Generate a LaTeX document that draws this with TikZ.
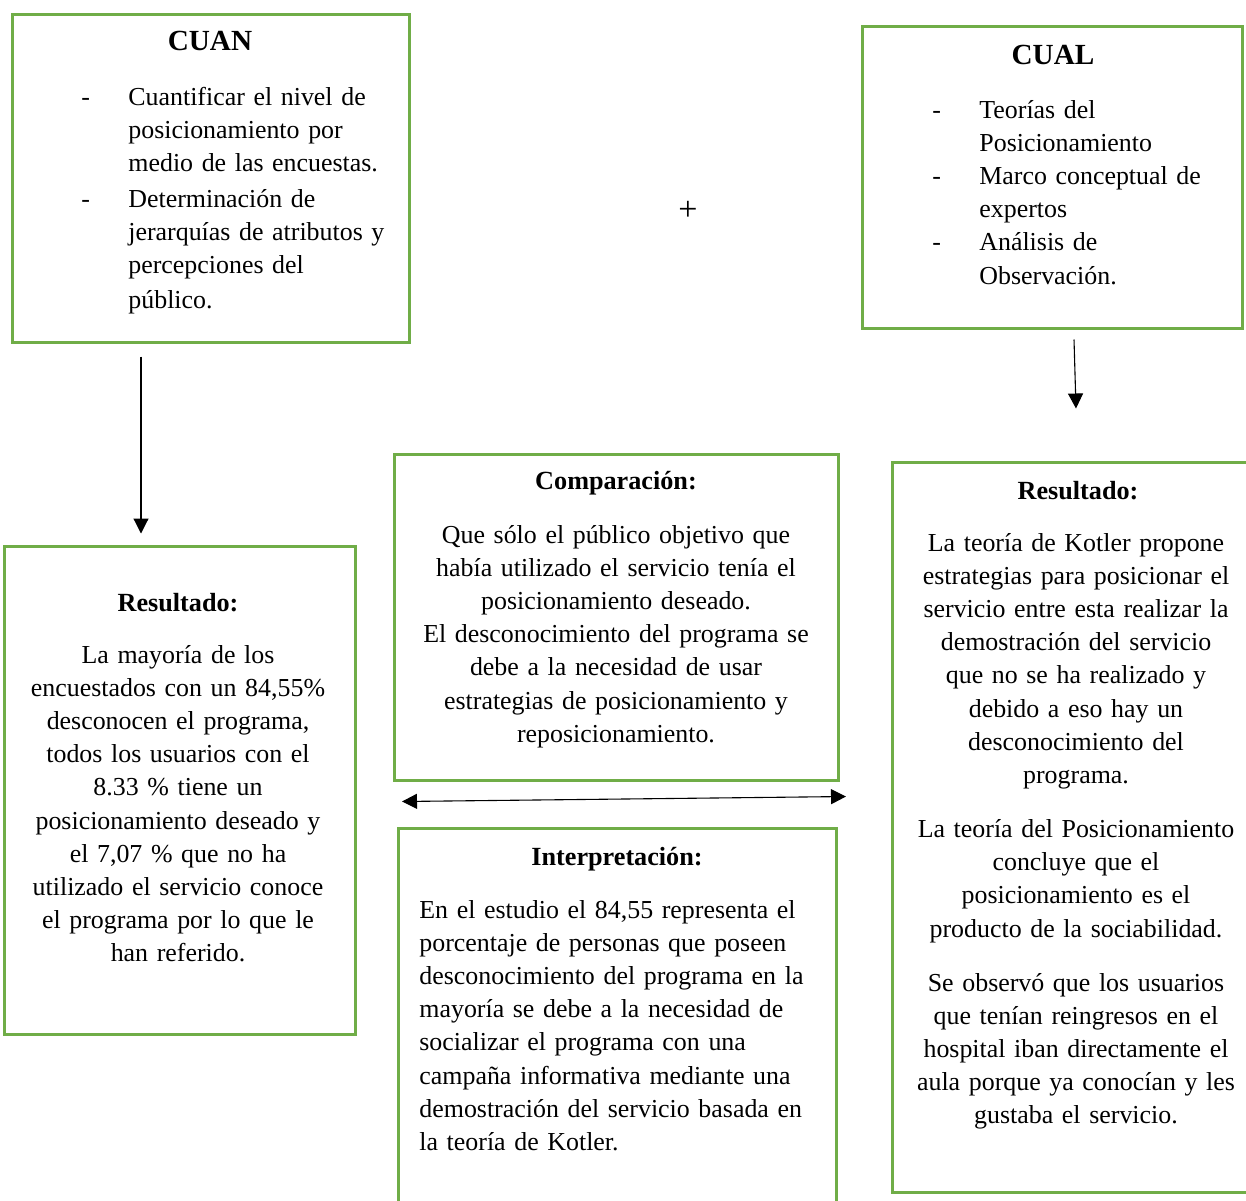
\documentclass[tikz,border=0pt]{standalone}
\usepackage{fontspec}
\setmainfont{Liberation Serif}
\usetikzlibrary{arrows.meta}
\definecolor{boxgreen}{RGB}{112,173,71}
\newcommand{\dashitem}{\makebox[23.5pt][l]{-}}
\newcommand{\indentitem}{\hspace*{23.5pt}}
\tikzset{
  box/.style={draw=boxgreen, line width=1.5pt, rectangle, inner sep=0pt},
  txt/.style={inner sep=0pt, font=\fontsize{12.95}{16.6}\selectfont, text=black},
  ttl/.style={inner sep=0pt, font=\fontsize{13.1}{16.6}\selectfont\bfseries, text=black},
  bigttl/.style={inner sep=0pt, font=\fontsize{14.6}{17}\selectfont\bfseries, text=black},
  plussign/.style={inner sep=0pt, font=\fontsize{17}{17}\selectfont, text=black},
  arr/.style={line width=0.55pt, -{Triangle[width=7.5pt,length=7.5pt]}},
  dblarr/.style={line width=0.55pt, {Triangle[width=7.5pt,length=7.5pt]}-{Triangle[width=7.5pt,length=7.5pt]}}
}
\begin{document}
\begin{tikzpicture}[x=0.5pt,y=-0.5pt]
\useasboundingbox (0,0) rectangle (1246,1200);
\fill[white] (0,0) rectangle (1246,1200);
\clip (0,0) rectangle (1246,1200);

% boxes
\node[box, minimum width=198.5pt, minimum height=164pt] (cuan) at (210.5,178) {};
\node[box, minimum width=190pt, minimum height=151pt] (cual) at (1052,177) {};
\node[box, minimum width=175.5pt, minimum height=244pt] (resL) at (179.5,790) {};
\node[box, minimum width=222pt, minimum height=163pt] (comp) at (616,617) {};
\node[box, minimum width=219pt, minimum height=193.5pt] (interp) at (617,1021.5) {};
\node[box, minimum width=184pt, minimum height=365pt] (resR) at (1076,827) {};

% CUAN
\node[bigttl, anchor=base] (cuanttl) at (210,50) {CUAN};
\node[txt, anchor=base west, text width=165pt, align=left] (cuanbody) at (81,105) {%
\dashitem Cuantificar el nivel de\\
\indentitem posicionamiento por\\
\indentitem medio de las encuestas.\\[1.3pt]
\dashitem Determinación de\\
\indentitem jerarquías de atributos y\\
\indentitem percepciones del\\[0.8pt]
\indentitem público.};

% CUAL
\node[bigttl, anchor=base] (cualttl) at (1053,64) {CUAL};
\node[txt, anchor=base west, text width=150pt, align=left] (cualbody) at (932,118) {%
\dashitem Teorías del\\
\indentitem Posicionamiento\\
\dashitem Marco conceptual de\\
\indentitem expertos\\
\dashitem Análisis de\\
\indentitem Observación.};

% plus
\node[plussign] (plus) at (688,211) {+};

% left result
\node[ttl, anchor=base] (resLttl) at (178,611) {Resultado:};
\node[txt, anchor=base, text width=172pt, align=center] (resLbody) at (178,663) {%
La mayoría de los\\
encuestados con un 84,55\%\\
desconocen el programa,\\
todos los usuarios con el\\
8.33 \% tiene un\\
posicionamiento deseado y\\
el 7,07 \% que no ha\\
utilizado el servicio conoce\\
el programa por lo que le\\
han referido.};

% comparison
\node[ttl, anchor=base] (compttl) at (616,489) {Comparación:};
\node[txt, anchor=base, text width=218pt, align=center] (compbody) at (616,543) {%
Que sólo el público objetivo que\\
había utilizado el servicio tenía el\\
posicionamiento deseado.\\
El desconocimiento del programa se\\
debe a la necesidad de usar\\
estrategias de posicionamiento y\\
reposicionamiento.};

% interpretation
\node[ttl, anchor=base] (interpttl) at (617,865) {Interpretación:};
\node[txt, anchor=base west, text width=210pt, align=left] (interpbody) at (419,918) {%
En el estudio el 84,55 representa el\\
porcentaje de personas que poseen\\
desconocimiento del programa en la\\
mayoría se debe a la necesidad de\\
socializar el programa con una\\
campaña informativa mediante una\\
demostración del servicio basada en\\
la teoría de Kotler.};

% right result
\node[ttl, anchor=base] (resRttl) at (1078,499) {Resultado:};
\node[txt, anchor=base, text width=178pt, align=center] (resRbody) at (1076,551) {%
La teoría de Kotler propone\\
estrategias para posicionar el\\
servicio entre esta realizar la\\
demostración del servicio\\
que no se ha realizado y\\
debido a eso hay un\\
desconocimiento del\\
programa.\\[10.4pt]
La teoría del Posicionamiento\\
concluye que el\\
posicionamiento es el\\
producto de la sociabilidad.\\[10.4pt]
Se observó que los usuarios\\
que tenían reingresos en el\\
hospital iban directamente el\\
aula porque ya conocían y les\\
gustaba el servicio.};

% connectors
\draw[arr] ([xshift=-34.75pt,yshift=-6.5pt]cuan.south) -- ([xshift=-19.25pt,yshift=5.5pt]resL.north);
\draw[arr] ([xshift=11pt,yshift=-5pt]cual.south) -- ([yshift=26pt]resR.north);
\draw[dblarr] ([xshift=-107pt,yshift=-10pt]comp.south) -- ([xshift=114.5pt,yshift=15pt]interp.north);
\end{tikzpicture}
\end{document}
